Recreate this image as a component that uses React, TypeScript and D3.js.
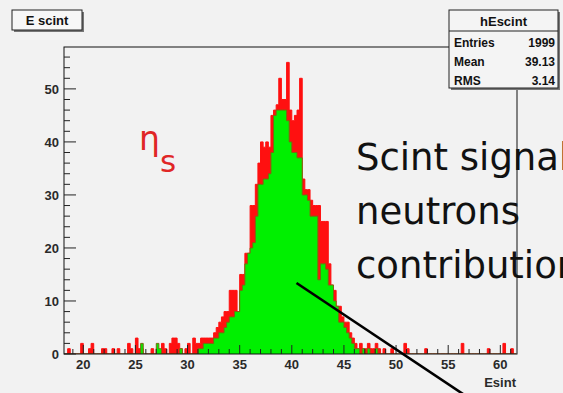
import React from "react";
import * as d3 from "d3";

// ---- data ----
const binStart = 18;
const binWidth = 0.25;
// total scintillator signal (red histogram), 4 bins per unit from 18.00
const totalCounts = [
  0, 0, 1, 0, // 18
  0, 0, 0, 2, // 19
  0, 0, 1, 2, // 20
  0, 0, 0, 1, // 21
  1, 0, 0, 1, // 22
  0, 1, 0, 0, // 23
  0, 2, 1, 0, // 24
  3, 1, 1, 0, // 25
  0, 0, 1, 0, // 26
  1, 0, 2, 1, // 27
  0, 2, 3, 3, // 28
  2, 1, 0, 1, // 29
  2, 0, 3, 2, // 30
  2, 3, 3, 3, // 31
  3, 3, 4, 5, // 32
  6, 7, 8, 8, // 33
  12, 12, 12, 8, // 34
  15, 15, 19, 19, // 35
  28, 28, 32, 36, // 36
  40, 39, 40, 39, // 37
  45, 46, 47, 52, // 38
  48, 48, 55, 46, // 39
  44, 45, 46, 52, // 40
  33, 31, 31, 29, // 41
  28, 28, 28, 25, // 42
  25, 25, 17, 13, // 43
  12, 9, 9, 7, // 44
  6, 6, 4, 3, // 45
  2, 1, 2, 1, // 46
  1, 2, 1, 1, // 47
  2, 1, 0, 1, // 48
  0, 0, 1, 0, // 49
  0, 0, 0, 2, // 50
  1, 0, 0, 0, // 51
  0, 0, 0, 1, // 52
  0, 0, 0, 0, // 53
  0, 0, 0, 0, // 54
  0, 0, 0, 0, // 55
  0, 2, 0, 0, // 56
  0, 0, 0, 0, // 57
  0, 0, 0, 1, // 58
  0, 0, 0, 0, // 59
  0, 2, 0, 0, // 60
  1, 0, // 61
];
// neutrons contribution (green histogram)
const neutronCounts = [
  0, 0, 0, 0, // 18
  0, 0, 0, 0, // 19
  0, 0, 0, 0, // 20
  0, 0, 0, 0, // 21
  0, 0, 0, 0, // 22
  0, 0, 0, 0, // 23
  0, 0, 0, 0, // 24
  0, 0, 2, 0, // 25
  0, 0, 0, 0, // 26
  2, 1, 0, 0, // 27
  0, 0, 0, 0, // 28
  0, 1, 0, 0, // 29
  0, 0, 0, 0, // 30
  1, 1, 2, 2, // 31
  2, 2, 3, 3, // 32
  4, 4, 5, 6, // 33
  7, 7, 8, 8, // 34
  12, 13, 17, 19, // 35
  20, 21, 26, 32, // 36
  32, 33, 33, 34, // 37
  38, 45, 46, 46, // 38
  46, 46, 44, 40, // 39
  38, 38, 37, 37, // 40
  30, 30, 29, 26, // 41
  26, 26, 14, 17, // 42
  17, 16, 13, 13, // 43
  10, 9, 6, 6, // 44
  5, 4, 3, 2, // 45
  1, 1, 0, 1, // 46
  0, 1, 0, 0, // 47
  1, 0, 0, 0, // 48
  0, 0, 0, 0, // 49
  0, 0, 0, 0, // 50
  0, 0, 0, 0, // 51
  0, 0, 0, 0, // 52
  0, 0, 0, 0, // 53
  0, 0, 0, 0, // 54
  0, 0, 0, 0, // 55
  0, 0, 0, 0, // 56
  0, 0, 0, 0, // 57
  0, 0, 0, 0, // 58
  0, 0, 0, 0, // 59
  0, 0, 0, 0, // 60
  0, 0, // 61
];
const xMajorTicks = [20, 25, 30, 35, 40, 45, 50, 55, 60];
const yMajorTicks = [0, 10, 20, 30, 40, 50];
const histTitle = "E scint";
const statsTitle = "hEscint";
const statLabels = ["Entries", "Mean", "RMS"];
const statValues = ["1999", "39.13", "3.14"];
const xAxisTitle = "Esint";
const noteLines = ["Scint signal", "neutrons", "contribution"];

// ---- layout ----
const W = 563;
const H = 393;
const frame = { left: 64, right: 517, top: 47, bottom: 354 };
const xDomain: [number, number] = [18.15, 61.6];
const yDomain: [number, number] = [0, 57.9];

export default function App() {
  const x = d3.scaleLinear().domain(xDomain).range([frame.left, frame.right]);
  const y = d3.scaleLinear().domain(yDomain).range([frame.bottom, frame.top]);

  const toPts = (counts: number[]) => {
    const pts: [number, number][] = counts.map((c, i) => [binStart + i * binWidth, c]);
    pts.push([binStart + counts.length * binWidth, counts[counts.length - 1]]);
    return pts;
  };
  const area = d3
    .area<[number, number]>()
    .x((d) => x(d[0]))
    .y0(y(0))
    .y1((d) => y(d[1]))
    .curve(d3.curveStepAfter);
  const line = d3
    .line<[number, number]>()
    .x((d) => x(d[0]))
    .y((d) => y(d[1]))
    .curve(d3.curveStepAfter);

  const redPts = toPts(totalCounts);
  const greenPts = toPts(neutronCounts);

  const xMinor = d3.range(19, 62, 1);
  const yMinor = d3.range(0, 58, 2);

  const font = "'Liberation Sans', Arial, Helvetica, sans-serif";
  const txt = "#2a2a2a";

  return (
    <svg
      width={W}
      height={H}
      style={{ position: "absolute", left: 0, top: 0, display: "block" }}
    >
      <defs>
        <clipPath id="frameClip">
          <rect
            x={frame.left}
            y={frame.top}
            width={frame.right - frame.left}
            height={frame.bottom - frame.top}
          />
        </clipPath>
      </defs>
      <rect x={0} y={0} width={W} height={H} fill="#f2f2f2" />

      {/* histograms */}
      <g clipPath="url(#frameClip)">
        <path d={area(redPts) || ""} fill="#ff1010" />
        <path d={line(redPts) || ""} fill="none" stroke="#ff1010" strokeWidth={1} />
        <path d={area(greenPts) || ""} fill="#00f000" />
        <path d={line(greenPts) || ""} fill="none" stroke="#7a6a10" strokeWidth={1} />
      </g>

      {/* frame */}
      <rect
        x={frame.left}
        y={frame.top}
        width={frame.right - frame.left}
        height={frame.bottom - frame.top}
        fill="none"
        stroke="#111"
        strokeWidth={1}
      />

      {/* y ticks */}
      {yMinor.map((v) => (
        <line
          key={"ym" + v}
          x1={frame.left}
          x2={frame.left + (v % 10 === 0 ? 12 : 6)}
          y1={y(v)}
          y2={y(v)}
          stroke="#222"
          strokeWidth={1}
        />
      ))}
      {yMajorTicks.map((v) => (
        <text
          key={"yl" + v}
          x={frame.left - 5}
          y={y(v) + 5}
          textAnchor="end"
          fontFamily={font}
          fontWeight="bold"
          fontSize={13}
          fill={txt}
        >
          {v}
        </text>
      ))}

      {/* x ticks */}
      {xMinor.map((v) => (
        <line
          key={"xm" + v}
          x1={x(v)}
          x2={x(v)}
          y1={frame.bottom}
          y2={frame.bottom - (v % 5 === 0 ? 9 : 5)}
          stroke="#222"
          strokeWidth={1}
        />
      ))}
      {xMajorTicks.map((v) => (
        <text
          key={"xl" + v}
          x={x(v)}
          y={frame.bottom + 15}
          textAnchor="middle"
          fontFamily={font}
          fontWeight="bold"
          fontSize={13}
          fill={txt}
        >
          {v}
        </text>
      ))}
      <text
        x={frame.right - 1}
        y={387}
        textAnchor="end"
        fontFamily={font}
        fontWeight="bold"
        fontSize={13}
        fill={txt}
      >
        {xAxisTitle}
      </text>

      {/* title box */}
      <rect x={14} y={12} width={70} height={20} fill="#777" />
      <rect x={12} y={10} width={70} height={20} fill="#f7f7f7" stroke="#222" strokeWidth={1} />
      <text
        x={47}
        y={25}
        textAnchor="middle"
        fontFamily={font}
        fontWeight="bold"
        fontSize={13}
        fill="#111"
      >
        {histTitle}
      </text>

      {/* stats box */}
      <rect x={451} y={12} width={109} height={78} fill="#777" />
      <rect x={449} y={10} width={109} height={78} fill="#f4f4f4" stroke="#222" strokeWidth={1} />
      <line x1={449} x2={558} y1={31} y2={31} stroke="#222" strokeWidth={1} />
      <text
        x={503.5}
        y={26}
        textAnchor="middle"
        fontFamily={font}
        fontWeight="bold"
        fontSize={13}
        fill="#111"
      >
        {statsTitle}
      </text>
      {statLabels.map((lab, i) => (
        <g key={lab}>
          <text
            x={454}
            y={47 + i * 19}
            fontFamily={font}
            fontWeight="bold"
            fontSize={12}
            fill="#111"
          >
            {lab}
          </text>
          <text
            x={555}
            y={47 + i * 19}
            textAnchor="end"
            fontFamily={font}
            fontWeight="bold"
            fontSize={12}
            fill="#111"
          >
            {statValues[i]}
          </text>
        </g>
      ))}

      {/* annotations */}
      <text x={139} y={150} fontFamily="'DejaVu Sans', sans-serif" fontSize={33} fill="#e02626">
        η
      </text>
      <text x={160} y={172} fontFamily="'DejaVu Sans', sans-serif" fontSize={31} fill="#e02626">
        s
      </text>
      {noteLines.map((t, i) => (
        <text
          key={t}
          x={356}
          y={170 + i * 54}
          fontFamily="'DejaVu Sans', sans-serif"
          fontSize={37}
          fill="#111"
        >
          {t}
        </text>
      ))}
      <line x1={296.5} y1={283} x2={472} y2={400} stroke="#000" strokeWidth={2.6} />
    </svg>
  );
}
